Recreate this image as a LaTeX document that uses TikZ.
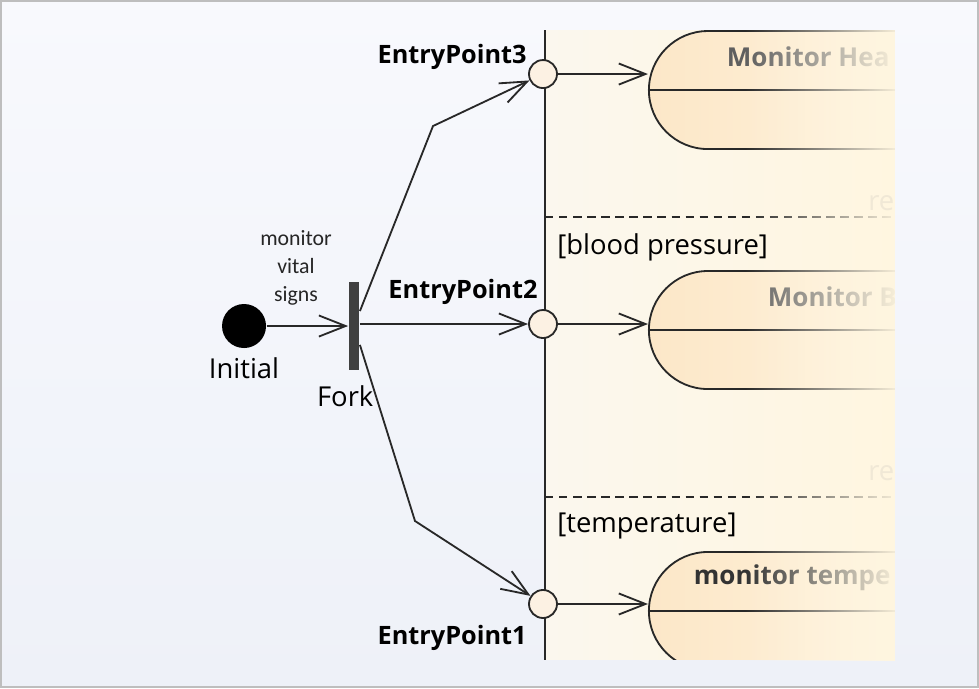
\documentclass[tikz,border=0pt]{standalone}
\usepackage{fontspec}
\setmainfont{Open Sans}
\newfontfamily\guardfont{Carlito}
\usetikzlibrary{positioning,shapes.misc,arrows.meta,fadings}
\definecolor{framegray}{RGB}{190,190,190}
\definecolor{bgtop}{RGB}{248,249,253}
\definecolor{bgbottom}{RGB}{238,241,248}
\definecolor{regionleft}{RGB}{251,247,238}
\definecolor{regionright}{RGB}{255,246,224}
\definecolor{stateleft}{RGB}{252,231,200}
\definecolor{stateright}{RGB}{255,244,222}
\definecolor{entryfill}{RGB}{252,241,227}
\definecolor{forkgray}{RGB}{64,64,64}
\definecolor{linegray}{RGB}{40,40,40}
\definecolor{titlegray}{RGB}{95,95,95}
\definecolor{ghost}{RGB}{240,232,214}
\tikzfading[name=fade right, left color=transparent!100, middle color=transparent!35, right color=transparent!5]

\begin{document}
\begin{tikzpicture}[x=0.025cm, y=-0.025cm, line width=1.3pt, >={Straight Barb[length=19pt,width=15pt]}]
    \tikzstyle{startnode} = [circle, fill=black, minimum size=1.1cm, inner sep=0pt]
    \tikzstyle{forkbar} = [rectangle, fill=forkgray, minimum width=0.25cm, minimum height=2.2cm, inner sep=0pt]
    \tikzstyle{entrypt} = [circle, draw=linegray, fill=entryfill, minimum size=0.7cm, inner sep=0pt]
    \tikzstyle{statebox} = [rounded rectangle, rounded rectangle right arc=none, draw=linegray, left color=stateleft, right color=stateright, minimum height=2.95cm, minimum width=8cm, anchor=west]
    \tikzstyle{nametext} = [font=\fontsize{19.5}{22}\selectfont, inner sep=1pt]
    \tikzstyle{eptext} = [font=\bfseries\fontsize{18}{20}\selectfont, inner sep=1pt]
    \tikzstyle{titletext} = [font=\bfseries\fontsize{18.5}{20}\selectfont, text=titlegray, anchor=west, inner sep=0pt]
    \tikzstyle{guardtext} = [font=\guardfont\fontsize{15.5}{20}\selectfont, align=center, text=black!85]
    \tikzstyle{flow} = [->, draw=linegray]

    % Frame
    \shade [top color=bgtop, bottom color=bgbottom] (0,0) rectangle (979,688);
    \draw [framegray, line width=1.5pt] (1,1) rectangle (978,687);
    \useasboundingbox (0,0) rectangle (979,688);

    % Expansion region
    \shade [left color=regionleft, right color=regionright] (545,30) rectangle (895,660);
    \begin{scope}
        \clip (545,30) rectangle (895,660);
        \draw [linegray, dash pattern=on 6pt off 4pt] (545,217) -- (895,217);
        \draw [linegray, dash pattern=on 6pt off 4pt] (545,497) -- (895,497);
        % States
        \node [statebox] (heart) at (648,90) {};
        \node [statebox] (pressure) at (648,330) {};
        \node [statebox] (temp) at (648,611) {};
        \draw [linegray] (heart.west) -- (heart.east);
        \draw [linegray] (pressure.west) -- (pressure.east);
        \draw [linegray] (temp.west) -- (temp.east);
        \node [titletext] (heart_title) at (726,57) {Monitor Hea};
        \node [titletext] (pressure_title) at (767,297) {Monitor B};
        \node [titletext, text=black!80] (temp_title) at (693,578) {monitor tempe};
    \end{scope}
    \shade [left color=regionleft!40!regionright, right color=regionright, path fading=fade right] (745,30) rectangle (895,660);
    \node [nametext, text=ghost, anchor=west] (ghost1) at (866,203) {re};
    \node [nametext, text=ghost, anchor=west] (ghost2) at (866,473) {re};
    \draw [linegray] (545,30) -- (545,660);
    \node [nametext, anchor=west] (guard_bp) at (555,247) {[blood pressure]};
    \node [nametext, anchor=west] (guard_temp) at (555,526) {[temperature]};

    % Initial and fork
    \node [startnode] (initial) at (244,326) {};
    \node [nametext, below=0.15cm of initial] (initial_lbl) {Initial};
    \node [forkbar] (fork) at (354,326) {};
    \node [nametext, below=0.3cm of fork, xshift=-0.22cm] (fork_lbl) {Fork};
    \node [guardtext] (guard_vital) at (296,268) {monitor\\vital\\signs};

    % Entry points
    \node [entrypt] (ep3) at (543,74) {};
    \node [entrypt] (ep2) at (543,324) {};
    \node [entrypt] (ep1) at (543,604) {};
    \node [eptext, anchor=east] (ep3_lbl) at (529,57) {EntryPoint3};
    \node [eptext] (ep2_lbl) at (463,292) {EntryPoint2};
    \node [eptext, anchor=east] (ep1_lbl) at (529,638) {EntryPoint1};

    % Bends
    \coordinate (bend3) at (433,126);
    \coordinate (bend1) at (415,521);

    % Arrows
    \draw [flow] (initial) -- (fork);
    \draw [flow] (fork) -- (bend3) -- (ep3);
    \draw [flow] (fork.east |- ep2) -- (ep2);
    \draw [flow] (fork) -- (bend1) -- (ep1);
    \draw [flow] (ep3) -- (ep3 -| heart.west);
    \draw [flow] (ep2) -- (ep2 -| pressure.west);
    \draw [flow] (ep1) -- (ep1 -| temp.west);
\end{tikzpicture}
\end{document}
